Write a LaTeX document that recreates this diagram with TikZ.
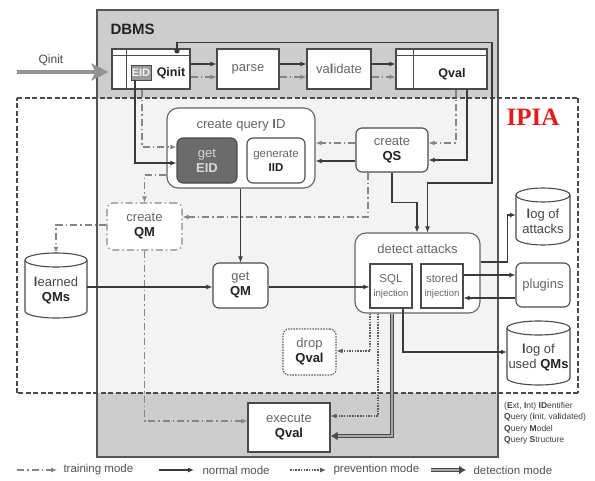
\documentclass[tikz,border=0pt]{standalone}
\usepackage{fontspec}
\setmainfont{Liberation Sans}
\newfontfamily\ipiafont{Liberation Serif}
\usetikzlibrary{arrows.meta,calc}
\definecolor{dbmsgray}{HTML}{CDCDCD}
\definecolor{midfill}{HTML}{F3F3F3}
\definecolor{linecol}{HTML}{3A3A3A}
\definecolor{boxcol}{HTML}{4A4A4A}
\definecolor{traincol}{HTML}{858585}
\definecolor{prevcol}{HTML}{5A5A5A}
\definecolor{txtgray}{HTML}{666666}
\definecolor{txtdark}{HTML}{222222}
\definecolor{ipiared}{HTML}{E41B1B}
\definecolor{eidfill}{HTML}{6B6B6B}
\definecolor{eidtext}{HTML}{D8D8D8}
\definecolor{detin}{HTML}{A8A8A8}
\definecolor{bordcol}{HTML}{555555}
\newcommand{\bdx}[1]{\textcolor{txtdark}{\textbf{#1}}}
\tikzset{
  base/.style={inner sep=0pt, align=center, font=\fontsize{13}{15}\selectfont, text=txtgray},
  sqbox/.style={base, draw=boxcol, line width=1.1pt, fill=white},
  rbox/.style={sqbox, rounded corners=6pt},
  bigrbox/.style={sqbox, rounded corners=11pt, draw=boxcol!85},
  tmbox/.style={base, draw=traincol, line width=1.1pt, dash pattern=on 7pt off 3pt on 1.5pt off 3pt, rounded corners=6pt, fill=white},
  pvbox/.style={base, draw=prevcol, line width=1.1pt, dash pattern=on 1.5pt off 1.2pt, rounded corners=6pt, fill=white},
  band/.style={inner sep=0pt, fill=dbmsgray, draw=dbmsgray, line width=0.2pt},
  tiptri/.style={-{Latex[length=6pt,width=5pt]}},
  normal/.style={draw=linecol, line width=1.1pt, tiptri},
  training/.style={draw=traincol, line width=1.1pt, dash pattern=on 7pt off 3pt on 1.5pt off 3pt, tiptri},
  prevention/.style={draw=prevcol, line width=1.1pt, dash pattern=on 1.5pt off 1.2pt, tiptri},
  detection/.style={draw=boxcol, line width=4.5pt, -{Latex[length=7pt,width=9pt]}, postaction={draw=detin, line width=2pt, -, shorten >=7pt}},
  cylline/.style={draw=boxcol, line width=1.1pt},
  cyltext/.style={base, text=black!72},
  ipiabox/.style={draw=boxcol, line width=2.2pt, dash pattern=on 5pt off 2.5pt},
  dbmsline/.style={draw=bordcol, line width=1.5pt, line cap=rect},
  legtext/.style={anchor=west, font=\fontsize{11.5}{13}\selectfont, text=black!68},
  tblline/.style={draw=boxcol, line width=0.9pt}
}
\newcommand{\mycyl}[6]{%
  \pgfmathsetmacro{\mycx}{(#2+#4)/2}%
  \pgfmathsetmacro{\myrx}{(#4-#2)/2}%
  \pgfmathsetmacro{\mycy}{-(#3+#5)/2}%
  \pgfmathsetmacro{\myw}{#4-#2}%
  \pgfmathsetmacro{\myh}{#5-#3}%
  \draw[cylline, fill=white] (#2,-#3-7) -- (#2,-#5+7) arc[start angle=180, end angle=360, x radius=\myrx, y radius=7] -- (#4,-#3-7) arc[start angle=0, end angle=180, x radius=\myrx, y radius=7] -- cycle;
  \draw[cylline] (#4,-#3-7) arc[start angle=0, end angle=-180, x radius=\myrx, y radius=7];
  \node[inner sep=0pt, minimum width=\myw pt, minimum height=\myh pt] (#1) at (\mycx,\mycy) {};
  \node[cyltext] (#1-t) at (\mycx,\mycy-5) {#6};
}
\begin{document}
\begin{tikzpicture}[x=1pt,y=1pt]
\useasboundingbox (0,0) rectangle (595,-480);
% DBMS bands (top and bottom gray, middle light)
\node[band, minimum width=401pt, minimum height=88pt] (topband) at (297.5,-54) {};
\node[band, minimum width=401pt, minimum height=64pt] (botband) at (297.5,-425) {};
\path[fill=midfill] (97,-98) -- (498,-98) -- (498,-393) -- (97,-393) -- cycle;
\draw[dbmsline] (97,-10) -- (498,-10);
\draw[dbmsline] (498,-10) -- (498,-457);
\draw[dbmsline] (498,-457) -- (97,-457);
\draw[dbmsline] (97,-457) -- (97,-10);
\node[anchor=west, font=\fontsize{15}{15}\selectfont\bfseries, text=txtdark] (dbms) at (107,-29) {DBMS};
% IPIA
\draw[ipiabox] (17,-98) -- (578,-98);
\draw[ipiabox] (578,-98) -- (578,-393);
\draw[ipiabox] (578,-393) -- (17,-393);
\draw[ipiabox] (17,-393) -- (17,-98);
\node[font=\ipiafont\fontsize{25}{25}\selectfont\bfseries, text=ipiared] (ipia) at (533,-117) {IPIA};

% top row
\node[sqbox, minimum width=78pt, minimum height=40pt] (qinitT) at (151,-69) {};
\draw[tblline] ([yshift=-7pt]qinitT.north west) -- ([yshift=-7pt]qinitT.north east);
\draw[tblline] ([xshift=15pt]qinitT.north west) -- ([xshift=15pt]qinitT.south west);
\node[base, font=\fontsize{12.5}{15}\selectfont\bfseries, text=txtdark] (qinittxt) at (171,-73) {Qinit};
\node[base, draw=boxcol, fill=gray!80, line width=0.8pt, minimum width=20pt, minimum height=15pt, font=\fontsize{11}{11}\selectfont\bfseries, text=white!92!gray] (eid) at (141,-72.5) {EID};
\node[sqbox, minimum width=62pt, minimum height=40pt] (parse) at (248,-69) {parse};
\node[sqbox, minimum width=64pt, minimum height=40pt] (validate) at (339,-69) {va\textbf{l}idate};
\node[sqbox, minimum width=91pt, minimum height=40pt] (qvalT) at (441.5,-69) {};
\draw[tblline] ([yshift=-7pt]qvalT.north west) -- ([yshift=-7pt]qvalT.north east);
\draw[tblline] ([xshift=18pt]qvalT.north west) -- ([xshift=18pt]qvalT.south west);
\node[base, font=\fontsize{12.5}{15}\selectfont\bfseries, text=txtdark] (qvaltxt) at (452,-74) {Qval};

% input
\coordinate (qsrc) at (17,-72);
\draw[draw=gray!85, line width=3.5pt, -{Stealth[length=17pt,width=17pt,inset=4pt]}, shorten >=3pt] (qsrc) -- (qinitT.west |- 0,-72);
\node[base, font=\fontsize{12}{12}\selectfont, text=black!70] (qlabel) at (51,-60) {Qinit};

% middle nodes
\node[bigrbox, minimum width=148pt, minimum height=80pt] (createID) at (241,-148) {};
\node[base] (cidlabel) at (241,-125) {create query \textbf{I}D};
\node[rbox, fill=eidfill, text=eidtext, minimum width=60pt, minimum height=45pt] (geteid) at (207,-160.5) {get\\\textbf{EID}};
\node[rbox, minimum width=58pt, minimum height=45pt, font=\fontsize{11.5}{14}\selectfont] (geniid) at (276,-160.5) {generate\\\bdx{IID}};
\node[rbox, minimum width=72pt, minimum height=44pt] (createQS) at (392,-150) {create\\\bdx{QS}};
\node[tmbox, minimum width=75pt, minimum height=47pt] (createQM) at (144.5,-226.5) {create\\\bdx{QM}};
\node[rbox, minimum width=55pt, minimum height=45pt] (getQM) at (240.5,-285.5) {get\\\bdx{QM}};
\node[bigrbox, minimum width=125pt, minimum height=80pt] (detect) at (417.5,-273) {};
\node[base] (detlabel) at (417.5,-249) {detect attacks};
\node[sqbox, minimum width=42pt, minimum height=44pt, font=\fontsize{11.5}{13}\selectfont] (sqlinj) at (391,-286) {SQL\\[1pt]{\fontsize{9.5}{12}\selectfont injection}};
\node[sqbox, minimum width=42pt, minimum height=44pt, font=\fontsize{11.5}{13}\selectfont] (storedinj) at (442,-286) {stored\\[1pt]{\fontsize{9.5}{12}\selectfont injection}};
\node[rbox, minimum width=54pt, minimum height=44pt] (plugins) at (543,-285) {plugins};
\node[pvbox, minimum width=53pt, minimum height=46pt] (drop) at (309.5,-352) {drop\\\bdx{Qval}};
\node[sqbox, minimum width=82pt, minimum height=49pt] (execute) at (289,-427.5) {execute\\\bdx{Qval}};

\mycyl{learned}{25}{253}{87}{318}{\textbf{l}earned\\\bdx{QMs}}
\mycyl{logatt}{516}{188}{570}{245}{\textbf{l}og of\\attacks}
\mycyl{logused}{507}{321}{570}{385}{\textbf{l}og of\\used \bdx{QMs}}

% top connectors
\draw[normal] (qinitT.east |- 0,-64) -- (parse.west |- 0,-64);
\draw[training] (qinitT.east |- 0,-77) -- (parse.west |- 0,-77);
\draw[normal] (parse.east |- 0,-64) -- (validate.west |- 0,-64);
\draw[training] (parse.east |- 0,-77) -- (validate.west |- 0,-77);
\draw[normal] (validate.east |- 0,-64) -- (qvalT.west |- 0,-64);
\draw[training] (validate.east |- 0,-77) -- (qvalT.west |- 0,-77);

% EID to get EID
\draw[normal] ([xshift=-6pt]eid.south) |- (geteid.west |- 0,-163);
\draw[training] ($(eid.south |- qinitT.south)+(1,0)$) |- (geteid.west |- 0,-147);

% create QS to create query ID
\draw[training] (createQS.west |- 0,-143) -- (createID.east |- 0,-143);
\draw[normal] (createQS.west |- 0,-161) -- (createID.east |- 0,-161);

% Qval to create QS
\draw[training] (qvalT.south -| 456,0) |- (createQS.east |- 0,-143);
\draw[normal] (qvalT.south -| 467,0) |- (createQS.east |- 0,-160);

% training mode paths
\draw[training] (createID.west |- 0,-175) -| (createQM.north);
\draw[training] (createQS.south -| 368,0) |- (createQM.east |- 0,-217);
\draw[training] (createQM.west |- 0,-225) -| (learned.north);
\draw[training] (createQM.south) |- (execute.west |- 0,-421);

% normal paths
\draw[normal] (learned.east |- 0,-287) -- (getQM.west |- 0,-287);
\draw[normal] (createID.south -| getQM.north) -- (getQM.north);
\draw[normal] (getQM.east |- 0,-287) -- (sqlinj.west |- 0,-287);
\draw[normal] (createQS.south) -- ++(0,-30) -| ([xshift=-0.5pt]detect.north);
\coordinate (qdot) at ([xshift=26pt,yshift=-2.5pt]qinitT.north);
\draw[normal] (qdot) -- ([xshift=26pt,yshift=6pt]qinitT.north) -| (492,-183) -| ([xshift=10pt]detect.north);
\fill[linecol] (qdot) circle (2.6);
\draw[normal] (detect.east |- 0,-262) -- ++(27,0) |- (logatt.west |- 0,-215);
\draw[normal] (storedinj.east |- 0,-275) -- (plugins.west |- 0,-275);
\draw[normal] (plugins.west |- 0,-298) -- (storedinj.east |- 0,-298);
\draw[normal] ([xshift=12pt]sqlinj.south) |- (logused.west |- 0,-352);

% prevention / detection
\draw[prevention] ([xshift=-47.5pt]detect.south) |- (drop.east |- 0,-351);
\draw[prevention] ([xshift=-39.5pt]detect.south) |- (execute.east |- 0,-416);
\draw[detection] ([xshift=-25.5pt]detect.south) |- (execute.east |- 0,-436);

% abbreviations
\node[anchor=north west, align=left, font=\fontsize{8.5}{11.5}\selectfont, text=black!75, inner sep=0pt] (abbr) at (504,-402) {(\textbf{E}xt, \textbf{I}nt) \textbf{ID}entifier\\\textbf{Q}uery (\textbf{i}nit, va\textbf{l}idated)\\\textbf{Q}uery \textbf{M}odel\\\textbf{Q}uery \textbf{S}tructure};

% legend
\coordinate (lta) at (17,-470); \coordinate (ltb) at (57,-470);
\draw[training] (lta) -- (ltb);
\node[legtext] (lttxt) at (60,-470) {training mode};
\coordinate (lna) at (159,-470); \coordinate (lnb) at (194,-470);
\draw[normal] (lna) -- (lnb);
\node[legtext] (lntxt) at (199,-470) {normal mode};
\coordinate (lpa) at (290,-470); \coordinate (lpb) at (326,-470);
\draw[prevention] (lpa) -- (lpb);
\node[legtext] (lptxt) at (330,-470) {prevention mode};
\coordinate (lda) at (431,-470); \coordinate (ldb) at (466,-470);
\draw[detection] (lda) -- (ldb);
\node[legtext] (ldtxt) at (470,-470) {detection mode};
\end{tikzpicture}
\end{document}
